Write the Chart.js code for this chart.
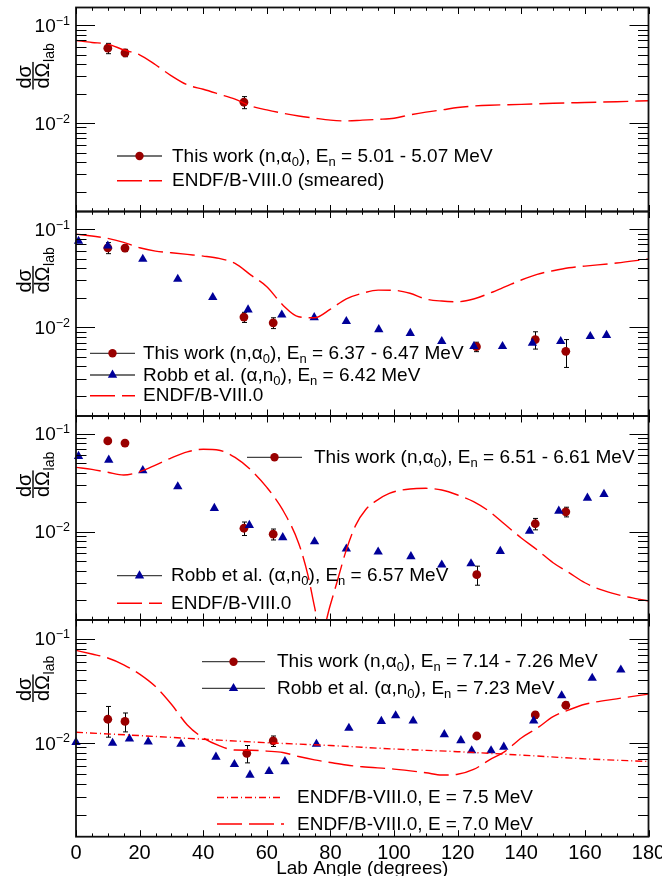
<!DOCTYPE html>
<html lang="en">
<head>
<meta charset="UTF-8">
<title>Angular distributions</title>
<script src="https://cdn.jsdelivr.net/npm/chart.js@4"></script>
<style>
  body { margin: 0; background: #ffffff; }
  #wrap { position: relative; width: 662px; height: 876px; }
  #wrap canvas { position: absolute; left: 0; top: 0; }
</style>
</head>
<body>
<div id="wrap">
  <canvas id="p1" width="662" height="876"></canvas>
  <canvas id="p2" width="662" height="876"></canvas>
  <canvas id="p3" width="662" height="876"></canvas>
  <canvas id="p4" width="662" height="876"></canvas>
</div>
<script>
// ---- panel 1: En = 5.01 - 5.07 MeV
const thisAng1 = [10.0, 15.4, 52.8];
const thisVal1 = [0.058, 0.052, 0.0163];
const thisErr1 = [0.007, 0.0045, 0.0023];
const endfAng1 = [0, 5, 10, 15, 20, 25, 30, 35, 40, 45, 50, 55, 60, 65, 70, 75, 80, 85, 90, 95, 100, 105, 110, 115, 120, 125, 130, 140, 150, 160, 170, 180];
const endfVal1 = [0.0695, 0.0664, 0.0639, 0.0558, 0.0497, 0.0393, 0.0303, 0.0245, 0.0221, 0.0197, 0.0175, 0.0149, 0.0136, 0.0126, 0.0118, 0.0112, 0.0107, 0.0105, 0.0107, 0.0109, 0.0112, 0.0121, 0.0129, 0.0136, 0.0144, 0.0149, 0.0152, 0.0155, 0.0159, 0.0162, 0.0165, 0.0169];

// ---- panel 2: En = 6.37 - 6.47 MeV
const thisAng2 = [10.0, 15.4, 52.8, 62.0, 125.9, 144.4, 154.0];
const thisVal2 = [0.0645, 0.064, 0.0127, 0.0111, 0.00635, 0.0075, 0.0057];
const thisErr2 = [0.0083, 0.005, 0.0015, 0.0014, 0.0007, 0.0015, 0.0018];
const robbAng2 = [0.8, 10, 21, 32, 43, 54.1, 64.7, 74.9, 85, 95.2, 105.1, 115, 125.1, 134.1, 143.5, 152.4, 161.7, 166.8];
const robbVal2 = [0.0755, 0.0676, 0.0494, 0.031, 0.0202, 0.0151, 0.0134, 0.0126, 0.0115, 0.0095, 0.0087, 0.0072, 0.0064, 0.0064, 0.0069, 0.0072, 0.0081, 0.0083];
const endfAng2 = [0, 5, 10, 15, 20, 25, 30, 35, 40, 45, 50, 55, 60, 65, 70, 75, 80, 85, 90, 95, 100, 105, 110, 115, 120, 125, 130, 135, 140, 145, 150, 155, 160, 170, 180];
const endfVal2 = [0.0889, 0.0849, 0.0804, 0.0732, 0.0646, 0.0597, 0.0574, 0.0552, 0.0531, 0.0503, 0.0448, 0.034, 0.0259, 0.0169, 0.0128, 0.0125, 0.0153, 0.0195, 0.0222, 0.0239, 0.0238, 0.0222, 0.0194, 0.0185, 0.0182, 0.0194, 0.0222, 0.0259, 0.0303, 0.0346, 0.0377, 0.0404, 0.042, 0.0451, 0.0496];

// ---- panel 3: En = 6.51 - 6.61 MeV
const thisAng3 = [10.0, 15.4, 52.8, 62.0, 126.0, 144.4, 154.0];
const thisVal3 = [0.084, 0.080, 0.0108, 0.0094, 0.00363, 0.012, 0.0159];
const thisErr3 = [0.004, 0.004, 0.0017, 0.0012, 0.0008, 0.0016, 0.0018];
const robbAng3 = [0.8, 10.3, 21, 32, 43.5, 54.5, 65, 75, 85, 95, 105.3, 115, 124.2, 133.4, 142.6, 151.8, 160.8, 166];
const robbVal3 = [0.0587, 0.0537, 0.042, 0.0287, 0.0173, 0.0116, 0.0087, 0.0079, 0.00666, 0.0062, 0.00556, 0.00457, 0.0047, 0.0063, 0.0101, 0.0162, 0.022, 0.024];
const endfAng3 = [0, 5, 10, 15, 20, 25, 30, 35, 40, 45, 50, 55, 60, 65, 70, 73, 75, 77, 80, 82, 85, 88, 91, 94, 98.5, 105, 110, 115, 120, 125, 130, 135, 140, 145, 150, 155, 160, 165, 170, 175, 180];
const endfVal3 = [0.0451, 0.0431, 0.0402, 0.0377, 0.0407, 0.0476, 0.0565, 0.065, 0.0692, 0.0676, 0.057, 0.0424, 0.0282, 0.0166, 0.0076, 0.0035, 0.0017, 0.0009, 0.0018, 0.003, 0.0065, 0.0117, 0.0166, 0.0202, 0.0245, 0.0272, 0.0276, 0.0265, 0.0236, 0.0202, 0.016, 0.0117, 0.0086, 0.0065, 0.0048, 0.0038, 0.003, 0.00255, 0.00228, 0.0021, 0.00195];

// ---- panel 4: En = 7.14 - 7.26 MeV
const thisAng4 = [10.0, 15.4, 53.7, 62.0, 126.0, 144.4, 154.0];
const thisVal4 = [0.0168, 0.016, 0.0079, 0.0104, 0.0116, 0.0185, 0.0229];
const thisErr4 = [0.0055, 0.0033, 0.0015, 0.0012, 0.0004, 0.0013, 0.0017];
const robbAng4 = [0, 11.5, 16.8, 22.7, 33, 44, 49.8, 54.7, 60.7, 65.7, 75.6, 85.8, 96, 100.5, 106, 115.8, 121, 124.4, 130.5, 134.5, 143.9, 152.7, 162.3, 171.3];
const robbVal4 = [0.0101, 0.0099, 0.0109, 0.0102, 0.0097, 0.0073, 0.0062, 0.0049, 0.0053, 0.0066, 0.0097, 0.0138, 0.0161, 0.0182, 0.0162, 0.012, 0.0105, 0.0084, 0.0084, 0.0091, 0.0162, 0.0284, 0.0417, 0.0502];
const endf75Ang4 = [0, 20, 40, 60, 80, 100, 120, 140, 160, 180];
const endf75Val4 = [0.0126, 0.0117, 0.0108, 0.0100, 0.0094, 0.0087, 0.0082, 0.0076, 0.0070, 0.0066];
const endf70Ang4 = [0, 5, 10, 15, 20, 25, 30, 35, 40, 45, 50, 55, 60, 65, 70, 75, 80, 85, 90, 100, 110, 115, 120, 125, 130, 135, 140, 145, 150, 155, 160, 170, 180];
const endf70Val4 = [0.0771, 0.0711, 0.0652, 0.0561, 0.0456, 0.0346, 0.0234, 0.0148, 0.0111, 0.00936, 0.0085, 0.00847, 0.0083, 0.00805, 0.00737, 0.00684, 0.00645, 0.0061, 0.00587, 0.00558, 0.00514, 0.00489, 0.00497, 0.00553, 0.00684, 0.0083, 0.0111, 0.0138, 0.0178, 0.0207, 0.0234, 0.0264, 0.0293];

const xTicks = [0, 20, 40, 60, 80, 100, 120, 140, 160, 180];
const yMin = 0.00125, yMax = 0.151;

const FONT = '"Liberation Sans", Arial, Helvetica, sans-serif';
const RED_PT = '#990000', BLUE_PT = '#000099', ENDF = '#ff0000';
const DASH_L = [25, 7], DASH_DOT = [7, 3, 1, 3];
const FL = 76, FR = 648.5;

function thisWork(ang, val) {
  return { data: ang.map((a, i) => ({ x: a, y: val[i] })), showLine: false, pointStyle: 'circle',
           pointRadius: 4.4, pointBackgroundColor: RED_PT, pointBorderWidth: 0, clip: false };
}
function robb(ang, val) {
  return { data: ang.map((a, i) => ({ x: a, y: val[i] })), showLine: false, pointStyle: 'triangle',
           pointRadius: 5.4, pointBackgroundColor: BLUE_PT, pointBorderWidth: 0, clip: false };
}
function curve(ang, val, dash) {
  return { data: ang.map((a, i) => ({ x: a, y: val[i] })), showLine: true, pointRadius: 0,
           borderColor: ENDF, borderWidth: 1.4, borderDash: dash, cubicInterpolationMode: 'monotone', fill: false };
}

const sub = t => [t, true];
const panels = [
  { id: 'p1', top: 7.5, bottom: 211.5,
    datasets: [curve(endfAng1, endfVal1, DASH_L), thisWork(thisAng1, thisVal1)],
    err: [thisAng1, thisVal1, thisErr1],
    legend: [
      { y: 156, x1: 117, x2: 162, tx: 172, kind: 'circle', parts: [['This work (n,α'], sub('0'), ['), E'], sub('n'), [' = 5.01 - 5.07 MeV']] },
      { y: 180.7, x1: 117, x2: 162, tx: 172, kind: 'dash', dash: DASH_L, parts: [['ENDF/B-VIII.0 (smeared)']] }
    ] },
  { id: 'p2', top: 211.5, bottom: 416,
    datasets: [curve(endfAng2, endfVal2, DASH_L), robb(robbAng2, robbVal2), thisWork(thisAng2, thisVal2)],
    err: [thisAng2, thisVal2, thisErr2],
    legend: [
      { y: 353.3, x1: 90, x2: 135, tx: 143, kind: 'circle', parts: [['This work (n,α'], sub('0'), ['), E'], sub('n'), [' = 6.37 - 6.47 MeV']] },
      { y: 375, x1: 90, x2: 135, tx: 143, kind: 'triangle', parts: [['Robb et al. (α,n'], sub('0'), ['), E'], sub('n'), [' = 6.42 MeV']] },
      { y: 395.7, x1: 90, x2: 135, tx: 143, kind: 'dash', dash: DASH_L, parts: [['ENDF/B-VIII.0']] }
    ] },
  { id: 'p3', top: 416, bottom: 620,
    datasets: [curve(endfAng3, endfVal3, DASH_L), robb(robbAng3, robbVal3), thisWork(thisAng3, thisVal3)],
    err: [thisAng3, thisVal3, thisErr3],
    legend: [
      { y: 457.3, x1: 247, x2: 302, tx: 314, kind: 'circle', parts: [['This work (n,α'], sub('0'), ['), E'], sub('n'), [' = 6.51 - 6.61 MeV']] },
      { y: 575.7, x1: 117, x2: 162, tx: 171, kind: 'triangle', parts: [['Robb et al. (α,n'], sub('0'), ['), E'], sub('n'), [' = 6.57 MeV']] },
      { y: 603.3, x1: 117, x2: 162, tx: 171, kind: 'dash', dash: DASH_L, parts: [['ENDF/B-VIII.0']] }
    ] },
  { id: 'p4', top: 620, bottom: 836.7, xLabels: true,
    datasets: [curve(endf75Ang4, endf75Val4, DASH_DOT), curve(endf70Ang4, endf70Val4, DASH_L), robb(robbAng4, robbVal4), thisWork(thisAng4, thisVal4)],
    err: [thisAng4, thisVal4, thisErr4],
    legend: [
      { y: 661.7, x1: 202, x2: 265, tx: 277, kind: 'circle', parts: [['This work (n,α'], sub('0'), ['), E'], sub('n'), [' = 7.14 - 7.26 MeV']] },
      { y: 688.3, x1: 202, x2: 265, tx: 277, kind: 'triangle', parts: [['Robb et al. (α,n'], sub('0'), ['), E'], sub('n'), [' = 7.23 MeV']] },
      { y: 797.5, x1: 217, x2: 282, tx: 297, kind: 'dash', dash: DASH_DOT, parts: [['ENDF/B-VIII.0, E = 7.5 MeV']] },
      { y: 824, x1: 217, x2: 284, tx: 297, kind: 'dash', dash: DASH_L, parts: [['ENDF/B-VIII.0, E = 7.0 MeV']] }
    ] }
];

function drawRich(ctx, x, y, parts) {
  let cx = x;
  ctx.textAlign = 'left';
  ctx.textBaseline = 'alphabetic';
  parts.forEach(([t, isSub]) => {
    ctx.font = (isSub ? '13px ' : '19px ') + FONT;
    ctx.fillText(t, cx, y + (isSub ? 4 : 0));
    cx += ctx.measureText(t).width;
  });
}

function triangle(ctx, x, y, r) {
  ctx.beginPath();
  ctx.moveTo(x, y - r);
  ctx.lineTo(x + r * 0.866, y + r * 0.5);
  ctx.lineTo(x - r * 0.866, y + r * 0.5);
  ctx.closePath();
  ctx.fill();
}

function padPlugin(p) {
  return {
    id: 'rootPad',
    beforeDatasetsDraw(chart) {
      // error bars for "this work"
      const ctx = chart.ctx, xs = chart.scales.x, ys = chart.scales.y;
      const [ang, val, err] = p.err;
      ctx.save();
      ctx.strokeStyle = '#000';
      ctx.lineWidth = 1;
      ang.forEach((a, i) => {
        const px = Math.round(xs.getPixelForValue(a)) + 0.5;
        const lo = ys.getPixelForValue(val[i] - err[i]);
        const hi = ys.getPixelForValue(val[i] + err[i]);
        ctx.beginPath();
        ctx.moveTo(px, lo); ctx.lineTo(px, hi);
        ctx.moveTo(px - 2.5, lo); ctx.lineTo(px + 2.5, lo);
        ctx.moveTo(px - 2.5, hi); ctx.lineTo(px + 2.5, hi);
        ctx.stroke();
      });
      ctx.restore();
    },
    afterDraw(chart) {
      const ctx = chart.ctx, xs = chart.scales.x, ys = chart.scales.y;
      const a = chart.chartArea;
      ctx.save();
      // frame
      ctx.strokeStyle = '#111';
      ctx.lineWidth = 1.8;
      ctx.strokeRect(a.left, a.top, a.right - a.left, a.bottom - a.top);

      // x ticks, top and bottom
      ctx.lineWidth = 1;
      ctx.strokeStyle = '#000';
      ctx.beginPath();
      for (let v = 0; v <= 180; v += 5) {
        const px = Math.round(xs.getPixelForValue(v)) + 0.5;
        const len = v % 20 === 0 ? 6.5 : 3.3;
        ctx.moveTo(px, a.top); ctx.lineTo(px, a.top + len);
        ctx.moveTo(px, a.bottom); ctx.lineTo(px, a.bottom - len);
      }
      // y ticks, left and right
      for (let d = -3; d <= -1; d++) {
        for (let k = 1; k <= 9; k++) {
          const v = k * Math.pow(10, d);
          if (v < yMin || v > yMax) continue;
          const py = Math.round(ys.getPixelForValue(v)) + 0.5;
          const len = k === 1 ? 19 : 10.5;
          ctx.moveTo(a.left, py); ctx.lineTo(a.left + len, py);
          ctx.moveTo(a.right, py); ctx.lineTo(a.right - len, py);
        }
      }
      ctx.stroke();

      // y tick labels 10^-1, 10^-2
      ctx.fillStyle = '#000';
      ctx.textBaseline = 'alphabetic';
      ctx.textAlign = 'left';
      [[0.1, '\u22121'], [0.01, '\u22122']].forEach(([v, ex]) => {
        const py = ys.getPixelForValue(v);
        ctx.font = '12.5px ' + FONT;
        const we = ctx.measureText(ex).width;
        ctx.font = '19px ' + FONT;
        const wb = ctx.measureText('10').width;
        const xr = 70;
        ctx.fillText('10', xr - we - wb, py + 6.8);
        ctx.font = '12.5px ' + FONT;
        ctx.fillText(ex, xr - we, py - 0.5);
      });

      // y title  dσ / dΩ_lab
      ctx.save();
      ctx.translate(33, a.top + 81);
      ctx.rotate(-Math.PI / 2);
      ctx.font = '20px ' + FONT;
      ctx.fillText('d\u03c3', 0, -2.5);
      ctx.fillText('d\u03a9', 0, 15.5);
      const wd = ctx.measureText('d\u03a9').width;
      ctx.fillRect(-1, -0.7, wd + 1.5, 1.4);
      ctx.font = '14px ' + FONT;
      ctx.fillText('lab', wd + 0.5, 20.5);
      ctx.restore();

      // x tick labels + title (bottom panel only)
      if (p.xLabels) {
        ctx.font = '20px ' + FONT;
        ctx.textAlign = 'center';
        xTicks.forEach(v => ctx.fillText(String(v), xs.getPixelForValue(v), 859));
        ctx.font = '19px ' + FONT;
        ctx.fillText('Lab Angle (degrees)', (a.left + a.right) / 2, 873.5);
      }

      // legend
      p.legend.forEach(e => {
        ctx.save();
        if (e.kind === 'dash') {
          ctx.strokeStyle = ENDF;
          ctx.lineWidth = 1.4;
          ctx.setLineDash(e.dash);
        } else {
          ctx.strokeStyle = '#444';
          ctx.lineWidth = 1.3;
        }
        ctx.beginPath();
        ctx.moveTo(e.x1, e.y); ctx.lineTo(e.x2, e.y);
        ctx.stroke();
        ctx.restore();
        const mx = (e.x1 + e.x2) / 2;
        if (e.kind === 'circle') {
          ctx.fillStyle = RED_PT;
          ctx.beginPath(); ctx.arc(mx, e.y, 4.2, 0, Math.PI * 2); ctx.fill();
        } else if (e.kind === 'triangle') {
          ctx.fillStyle = BLUE_PT;
          triangle(ctx, mx, e.y, 5.4);
        }
        ctx.fillStyle = '#000';
        drawRich(ctx, e.tx, e.y + 5.5, e.parts);
      });
      ctx.restore();
    }
  };
}

panels.forEach(p => {
  new Chart(document.getElementById(p.id), {
    type: 'scatter',
    data: { datasets: p.datasets },
    options: {
      responsive: false,
      animation: false,
      devicePixelRatio: 1,
      layout: { padding: { left: FL, right: 662 - FR, top: p.top, bottom: 876 - p.bottom } },
      plugins: { legend: { display: false }, tooltip: { enabled: false } },
      scales: {
        x: { type: 'linear', min: 0, max: 180, display: false },
        y: { type: 'logarithmic', min: yMin, max: yMax, display: false }
      }
    },
    plugins: [padPlugin(p)]
  });
});
</script>
</body>
</html>
